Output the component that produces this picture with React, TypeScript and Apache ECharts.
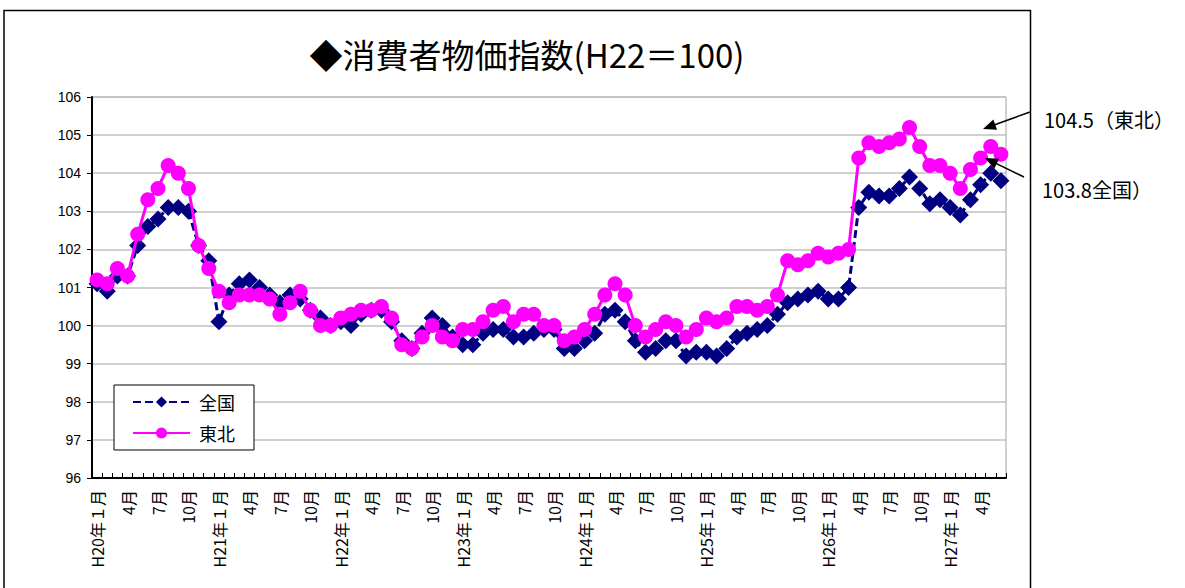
import React, { useEffect, useRef } from "react";
import * as echarts from "echarts";

// Category labels: H20年１月 … H27年6月 (monthly)
const eraYears = ["H20", "H21", "H22", "H23", "H24", "H25", "H26", "H27"];
const monthCount = 90;
const categories: string[] = [];
for (let y = 0; y < eraYears.length; y++) {
  for (let m = 1; m <= 12; m++) {
    if (categories.length < monthCount) {
      categories.push(m === 1 ? `${eraYears[y]}年１月` : `${m}月`);
    }
  }
}

const seriesNames = ["全国", "東北"];

// 全国 (navy, dashed, diamond)
const zenkoku = [
  101.1, 100.9, 101.3, 101.3, 102.1, 102.6, 102.8, 103.1, 103.1, 103.0, 102.1, 101.7,
  100.1, 100.8, 101.1, 101.2, 101.0, 100.8, 100.6, 100.8, 100.7, 100.4, 100.2, 100.0,
  100.1, 100.0, 100.3, 100.4, 100.4, 100.1, 99.6, 99.4, 99.8, 100.2, 100.0, 99.7,
  99.5, 99.5, 99.8, 99.9, 99.9, 99.7, 99.7, 99.8, 99.9, 99.9, 99.4, 99.4,
  99.6, 99.8, 100.3, 100.4, 100.1, 99.6, 99.3, 99.4, 99.6, 99.6, 99.2, 99.3,
  99.3, 99.2, 99.4, 99.7, 99.8, 99.9, 100.0, 100.3, 100.6, 100.7, 100.8, 100.9,
  100.7, 100.7, 101.0, 103.1, 103.5, 103.4, 103.4, 103.6, 103.9, 103.6, 103.2, 103.3,
  103.1, 102.9, 103.3, 103.7, 104.0, 103.8,
];

// 東北 (magenta, solid, circle)
const tohoku = [
  101.2, 101.1, 101.5, 101.3, 102.4, 103.3, 103.6, 104.2, 104.0, 103.6, 102.1, 101.5,
  100.9, 100.6, 100.8, 100.8, 100.8, 100.7, 100.3, 100.6, 100.9, 100.4, 100.0, 100.0,
  100.2, 100.3, 100.4, 100.4, 100.5, 100.2, 99.5, 99.4, 99.7, 100.0, 99.7, 99.6,
  99.9, 99.9, 100.1, 100.4, 100.5, 100.1, 100.3, 100.3, 100.0, 100.0, 99.6, 99.7,
  99.9, 100.3, 100.8, 101.1, 100.8, 100.0, 99.7, 99.9, 100.1, 100.0, 99.7, 99.9,
  100.2, 100.1, 100.2, 100.5, 100.5, 100.4, 100.5, 100.8, 101.7, 101.6, 101.7, 101.9,
  101.8, 101.9, 102.0, 104.4, 104.8, 104.7, 104.8, 104.9, 105.2, 104.7, 104.2, 104.2,
  104.0, 103.6, 104.1, 104.4, 104.7, 104.5,
];

const yMin = 96;
const yMax = 106;
const yInterval = 1;

const titleText = "◆消費者物価指数(H22＝100)";
const noteTohoku = "104.5（東北）";
const noteZenkoku = "103.8全国）";

const CJK = "'Noto Sans CJK JP', 'Liberation Sans', sans-serif";
const LAT = "'Liberation Sans', 'Noto Sans CJK JP', sans-serif";

function arrow(x1: number, y1: number, x2: number, y2: number) {
  const dx = x2 - x1;
  const dy = y2 - y1;
  const L = Math.hypot(dx, dy);
  const ux = dx / L;
  const uy = dy / L;
  const hl = 13;
  const hw = 5.5;
  const bx = x2 - ux * hl;
  const by = y2 - uy * hl;
  return [
    {
      type: "line",
      shape: { x1, y1, x2: bx + ux * 2, y2: by + uy * 2 },
      style: { stroke: "#000", lineWidth: 1.5 },
      z: 100,
    },
    {
      type: "polygon",
      shape: {
        points: [
          [x2, y2],
          [bx - uy * hw, by + ux * hw],
          [bx + uy * hw, by - ux * hw],
        ],
      },
      style: { fill: "#000" },
      z: 100,
    },
  ];
}

export default function App() {
  const ref = useRef<HTMLDivElement>(null);

  useEffect(() => {
    if (!ref.current) return;
    const chart = echarts.init(ref.current, undefined, { renderer: "svg" });
    const option: any = {
      animation: false,
      backgroundColor: "#fff",
      title: {
        text: titleText,
        left: 522,
        textAlign: "center",
        top: 32,
        textStyle: {
          fontSize: 33,
          fontWeight: "normal",
          color: "#000",
          fontFamily: CJK,
        },
      },
      legend: {
        orient: "vertical",
        left: 114,
        top: 385,
        data: seriesNames,
        itemWidth: 57,
        itemHeight: 14,
        itemGap: 13,
        padding: [8, 19, 8, 18],
        borderColor: "#000",
        borderWidth: 1,
        backgroundColor: "#fff",
        textStyle: { fontSize: 18, color: "#000", fontFamily: CJK, padding: [0, 0, 0, 4] },
        z: 10,
      },
      grid: {
        left: 92,
        top: 97,
        width: 914,
        height: 381,
        show: true,
        borderColor: "#a0a0a0",
        borderWidth: 1,
        backgroundColor: "transparent",
      },
      xAxis: {
        type: "category",
        data: categories,
        boundaryGap: true,
        axisLine: { show: true, lineStyle: { color: "#000", width: 2 } },
        axisTick: {
          show: true,
          inside: true,
          length: 5,
          interval: 0,
          lineStyle: { color: "#000", width: 1 },
        },
        axisLabel: {
          interval: 2,
          rotate: 90,
          fontSize: 16,
          color: "#000",
          fontFamily: CJK,
          margin: 12,
        },
        splitLine: { show: false },
      },
      yAxis: {
        type: "value",
        min: yMin,
        max: yMax,
        interval: yInterval,
        axisLine: { show: true, lineStyle: { color: "#000", width: 2 } },
        axisTick: { show: true, length: 5, lineStyle: { color: "#000", width: 1 } },
        axisLabel: { fontSize: 14, color: "#000", fontFamily: LAT, margin: 11 },
        splitLine: { show: true, lineStyle: { color: "#c0c0c0", width: 1.5 } },
      },
      series: [
        {
          name: seriesNames[0],
          type: "line",
          data: zenkoku,
          symbol: "diamond",
          symbolSize: 17,
          showAllSymbol: true,
          itemStyle: { color: "#000080" },
          lineStyle: { color: "#000080", width: 3, type: [8, 4] },
          z: 2,
        },
        {
          name: seriesNames[1],
          type: "line",
          data: tohoku,
          symbol: "circle",
          symbolSize: 15,
          showAllSymbol: true,
          itemStyle: { color: "#ff00ff" },
          lineStyle: { color: "#ff00ff", width: 3 },
          z: 3,
        },
      ],
      graphic: [
        {
          type: "rect",
          shape: { x: 4, y: 10.5, width: 1026.5, height: 600 },
          style: { fill: "none", stroke: "#000", lineWidth: 1.5 },
          silent: true,
          z: -1,
        },
        {
          type: "text",
          x: 1044,
          y: 119,
          style: {
            text: noteTohoku,
            fontSize: 20,
            fill: "#000",
            fontFamily: CJK,
            verticalAlign: "middle",
          },
          z: 100,
        },
        {
          type: "text",
          x: 1042,
          y: 189,
          style: {
            text: noteZenkoku,
            fontSize: 20,
            fill: "#000",
            fontFamily: CJK,
            verticalAlign: "middle",
          },
          z: 100,
        },
        ...arrow(1030, 112, 983, 129),
        ...arrow(1024, 177, 985, 158),
      ],
    };
    chart.setOption(option);
    return () => chart.dispose();
  }, []);

  return (
    <div
      ref={ref}
      style={{ position: "absolute", left: 0, top: 0, width: 1185, height: 588 }}
    />
  );
}
